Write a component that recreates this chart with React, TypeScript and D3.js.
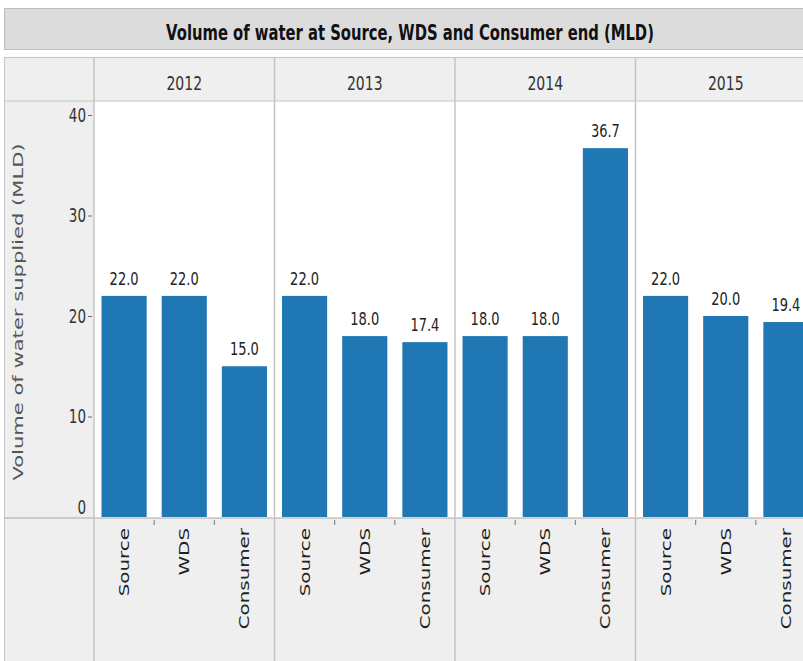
import { axisLeft, scaleBand, scaleLinear, select } from 'd3';
import React, { useEffect, useRef } from 'react';

const years = ['2012', '2013', '2014', '2015'];
const stages = ['Source', 'WDS', 'Consumer'];
const source = [22.0, 22.0, 18.0, 22.0];
const wds = [22.0, 18.0, 18.0, 20.0];
const consumer = [15.0, 17.4, 36.7, 19.4];
const yTicks = [0, 10, 20, 30, 40];

const W = 803;
const H = 661;
const SY = 1.42; // the reference is stretched vertically, so is the text
const FONT = '"DejaVu Sans", Verdana, sans-serif';
const BAR = '#1f77b4';

const App: React.FC = () => {
  const axisRef = useRef<SVGGElement>(null);

  const x0 = scaleBand<string>().domain(years).range([94, 94 + 4 * 180.5]);
  const x1 = scaleBand<string>()
    .domain(stages)
    .range([0, x0.bandwidth()])
    .paddingInner(0.25)
    .paddingOuter(0.125);
  const y = scaleLinear().domain([0, 40]).range([517, 115]);

  const rows = years.flatMap((yr, i) => [
    { year: yr, stage: 'Source', value: source[i] },
    { year: yr, stage: 'WDS', value: wds[i] },
    { year: yr, stage: 'Consumer', value: consumer[i] },
  ]);

  useEffect(() => {
    const g = select(axisRef.current);
    g.call(axisLeft(y).tickValues(yTicks).tickSize(4).tickPadding(2));
    g.select('.domain').remove();
    g.selectAll<SVGLineElement, number>('.tick line')
      .attr('stroke', '#666')
      .attr('opacity', (d) => (d === 0 ? 0 : 1));
    g.selectAll<SVGTextElement, number>('.tick text')
      .attr('fill', '#333')
      .attr('font-size', 13.5)
      .attr('font-family', FONT)
      .attr('dy', null)
      .attr('y', 0)
      .attr('transform', (d) => `translate(0, ${d === 0 ? -10 : 0}) scale(1, ${SY}) translate(0, 4.5)`);
  }, []);

  return (
    <svg width={W} height={H} style={{ position: 'absolute', left: 0, top: 0 }}>
      {/* title */}
      <rect x={4.5} y={8.5} width={W + 10} height={41} fill="#dcdcdc" stroke="#bdbdbd" />
      <g transform={`translate(410, 40) scale(1, ${SY})`}>
        <text textAnchor="middle" fontFamily={FONT} fontWeight="bold" fontSize={14.8} fill="#111">
          Volume of water at Source, WDS and Consumer end (MLD)
        </text>
      </g>

      {/* header, side and bottom strips */}
      <rect x={4.5} y={57.5} width={W + 10} height={H} fill="#efefef" stroke="#c4c4c4" />
      <rect x={94} y={101} width={W - 94} height={417} fill="#ffffff" />
      <line x1={4.5} x2={W} y1={101} y2={101} stroke="#c4c4c4" />
      <line x1={4.5} x2={W} y1={518} y2={518} stroke="#a8a8a8" />
      {years.map((yr) => (
        <line
          key={`sep-${yr}`}
          x1={x0(yr)!}
          x2={x0(yr)!}
          y1={57.5}
          y2={H}
          stroke="#c4c4c4"
          strokeWidth={1.5}
        />
      ))}
      {years.map((yr) => (
        <g key={`hd-${yr}`} transform={`translate(${x0(yr)! + x0.bandwidth() / 2}, 90) scale(1, ${SY})`}>
          <text textAnchor="middle" fontFamily={FONT} fontSize={14} fill="#333">
            {yr}
          </text>
        </g>
      ))}

      {/* bars */}
      {rows.map((d) => (
        <rect
          key={`bar-${d.year}-${d.stage}`}
          x={x0(d.year)! + x1(d.stage)!}
          y={y(d.value)}
          width={x1.bandwidth()}
          height={y(0) - y(d.value)}
          fill={BAR}
        />
      ))}
      {rows.map((d) => (
        <g
          key={`val-${d.year}-${d.stage}`}
          transform={`translate(${x0(d.year)! + x1(d.stage)! + x1.bandwidth() / 2}, ${y(d.value) - 11}) scale(1, ${SY})`}
        >
          <text textAnchor="middle" fontFamily={FONT} fontSize={13} fill="#222">
            {d.value.toFixed(1)}
          </text>
        </g>
      ))}

      {/* category ticks and labels */}
      {years.flatMap((yr) =>
        stages.slice(1).map((s) => (
          <line
            key={`tk-${yr}-${s}`}
            x1={x0(yr)! + x1(s)! - (x1.step() - x1.bandwidth()) / 2}
            x2={x0(yr)! + x1(s)! - (x1.step() - x1.bandwidth()) / 2}
            y1={520}
            y2={525}
            stroke="#777"
          />
        )),
      )}
      {rows.map((d) => (
        <g
          key={`cat-${d.year}-${d.stage}`}
          transform={`translate(${x0(d.year)! + x1(d.stage)! + x1.bandwidth() / 2 + 5}, 528) scale(1, ${SY}) rotate(-90)`}
        >
          <text textAnchor="end" fontFamily={FONT} fontSize={14} fill="#222">
            {d.stage}
          </text>
        </g>
      ))}

      {/* y axis */}
      <g ref={axisRef} transform="translate(92, 0)" />
      <g transform={`translate(23, 312) scale(1, ${SY * 1.1}) rotate(-90)`}>
        <text textAnchor="middle" fontFamily={FONT} fontSize={13.5} fill="#555">
          Volume of water supplied (MLD)
        </text>
      </g>
    </svg>
  );
};

export default App;
